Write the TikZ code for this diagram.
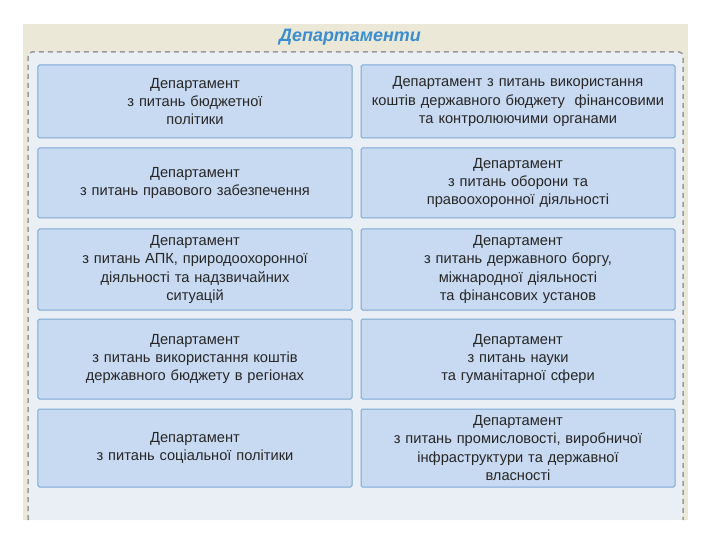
\documentclass[tikz,border=0pt]{standalone}
\usepackage{fontspec}
\setmainfont{Liberation Sans}
\definecolor{panelbg}{HTML}{ECE8D8}
\definecolor{framebg}{HTML}{E9EFF5}
\definecolor{framedash}{HTML}{9A9A9A}
\definecolor{deptfill}{HTML}{C8DAF1}
\definecolor{deptborder}{HTML}{7EA7D3}
\definecolor{titleblue}{HTML}{3A8DD0}

\begin{document}
\begin{tikzpicture}[x=1bp,y=-1bp,
	dept/.style={draw=deptborder, fill=deptfill, line width=1bp, rounded corners=1.5bp,
		minimum width=314bp, text width=308bp, align=center, inner sep=0pt,
		font=\fontsize{14.7}{18.5}\selectfont, text=black!85},
	heading/.style={font=\fontsize{18}{20}\selectfont\bfseries\itshape, text=titleblue}]

	\useasboundingbox (0,0) rectangle (720,540);
	\fill[panelbg] (23,24) rectangle (688,520);
	\fill[framebg, rounded corners=4bp] (28,520) -- (28,52) -- (683,52) -- (683,520) -- cycle;
	\draw[framedash, line width=1.5bp, dash pattern=on 5bp off 4bp, rounded corners=4bp]
		(28,520) -- (28,52) -- (683,52) -- (683,520);

	\node[heading] (title) at (350,37) {Департаменти};

	% left column
	\node[dept, minimum height=73bp] (budget) at (195,101.5)
		{Департамент\\з питань бюджетної\\політики};
	\node[dept, minimum height=70bp] (law) at (195,183)
		{Департамент\\з питань правового забезпечення};
	\node[dept, minimum height=81bp] (apk) at (195,269.5)
		{Департамент\\з питань АПК, природоохоронної\\діяльності та надзвичайних\\ситуацій};
	\node[dept, minimum height=80bp] (regions) at (195,359)
		{Департамент\\з питань використання коштів\\державного бюджету в регіонах};
	\node[dept, minimum height=78bp] (social) at (195,448)
		{Департамент\\з питань соціальної політики};

	% right column
	\node[dept, minimum height=73bp] (control) at (518,101.5)
		{Департамент з питань використання\\коштів державного бюджету~~фінансовими\\та контролюючими органами};
	\node[dept, minimum height=70bp] (defence) at (518,183)
		{Департамент\\з питань оборони та\\правоохоронної діяльності};
	\node[dept, minimum height=81bp] (debt) at (518,269.5)
		{Департамент\\з питань державного боргу,\\міжнародної діяльності\\та фінансових установ};
	\node[dept, minimum height=80bp] (science) at (518,359)
		{Департамент\\з питань науки\\та гуманітарної сфери};
	\node[dept, minimum height=78bp] (industry) at (518,448)
		{Департамент\\з питань промисловості, виробничої\\інфраструктури та державної\\власності};

\end{tikzpicture}
\end{document}
